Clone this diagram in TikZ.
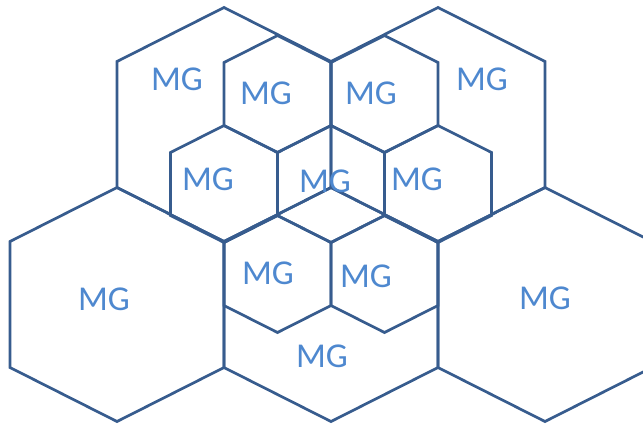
\documentclass[tikz,border=0pt]{standalone}
\usepackage{fontspec}
\setmainfont{Carlito}
\definecolor{hexline}{RGB}{55,92,142}
\definecolor{mgtext}{RGB}{78,136,207}
\newcommand{\hexcell}[3]{% cx, cy, scale
  \draw[hexedge] ({#1},{#2-117*#3}) -- ({#1+107*#3},{#2-63*#3}) -- ({#1+107*#3},{#2+63*#3})
    -- ({#1},{#2+117*#3}) -- ({#1-107*#3},{#2+63*#3}) -- ({#1-107*#3},{#2-63*#3}) -- cycle;}
\begin{document}
\begin{tikzpicture}[x=1bp,y=-1bp,
  hexedge/.style={draw=hexline,line width=2.7bp,line join=miter},
  mglabel/.style={text=mgtext,font=\fontsize{35}{38}\selectfont,inner sep=0pt}]
\useasboundingbox (0,0) rectangle (643,424);
\clip (0,0) rectangle (643,424);
% large cells
\hexcell{224}{124.5}{1}
\hexcell{438}{124.5}{1}
\hexcell{117}{304.5}{1}
\hexcell{331}{304.5}{1}
\hexcell{545}{304.5}{1}
% small cells
\hexcell{331}{184}{0.5}
\hexcell{277.5}{94}{0.5}
\hexcell{384.5}{94}{0.5}
\hexcell{224}{184}{0.5}
\hexcell{438}{184}{0.5}
\hexcell{277.5}{274}{0.5}
\hexcell{384.5}{274}{0.5}
% labels
\node[mglabel] (tl) at (177,79) {MG};
\node[mglabel] (tr) at (482,79) {MG};
\node[mglabel] (sa) at (266,93) {MG};
\node[mglabel] (sb) at (371,93) {MG};
\node[mglabel] (sc) at (208,179) {MG};
\node[mglabel] (se) at (325,181) {MG};
\node[mglabel] (sd) at (417,179) {MG};
\node[mglabel] (bl) at (104,299) {MG};
\node[mglabel] (sf) at (268,273) {MG};
\node[mglabel] (sg) at (366,276) {MG};
\node[mglabel] (br) at (545,298) {MG};
\node[mglabel] (bm) at (322,356) {MG};
\end{tikzpicture}
\end{document}
